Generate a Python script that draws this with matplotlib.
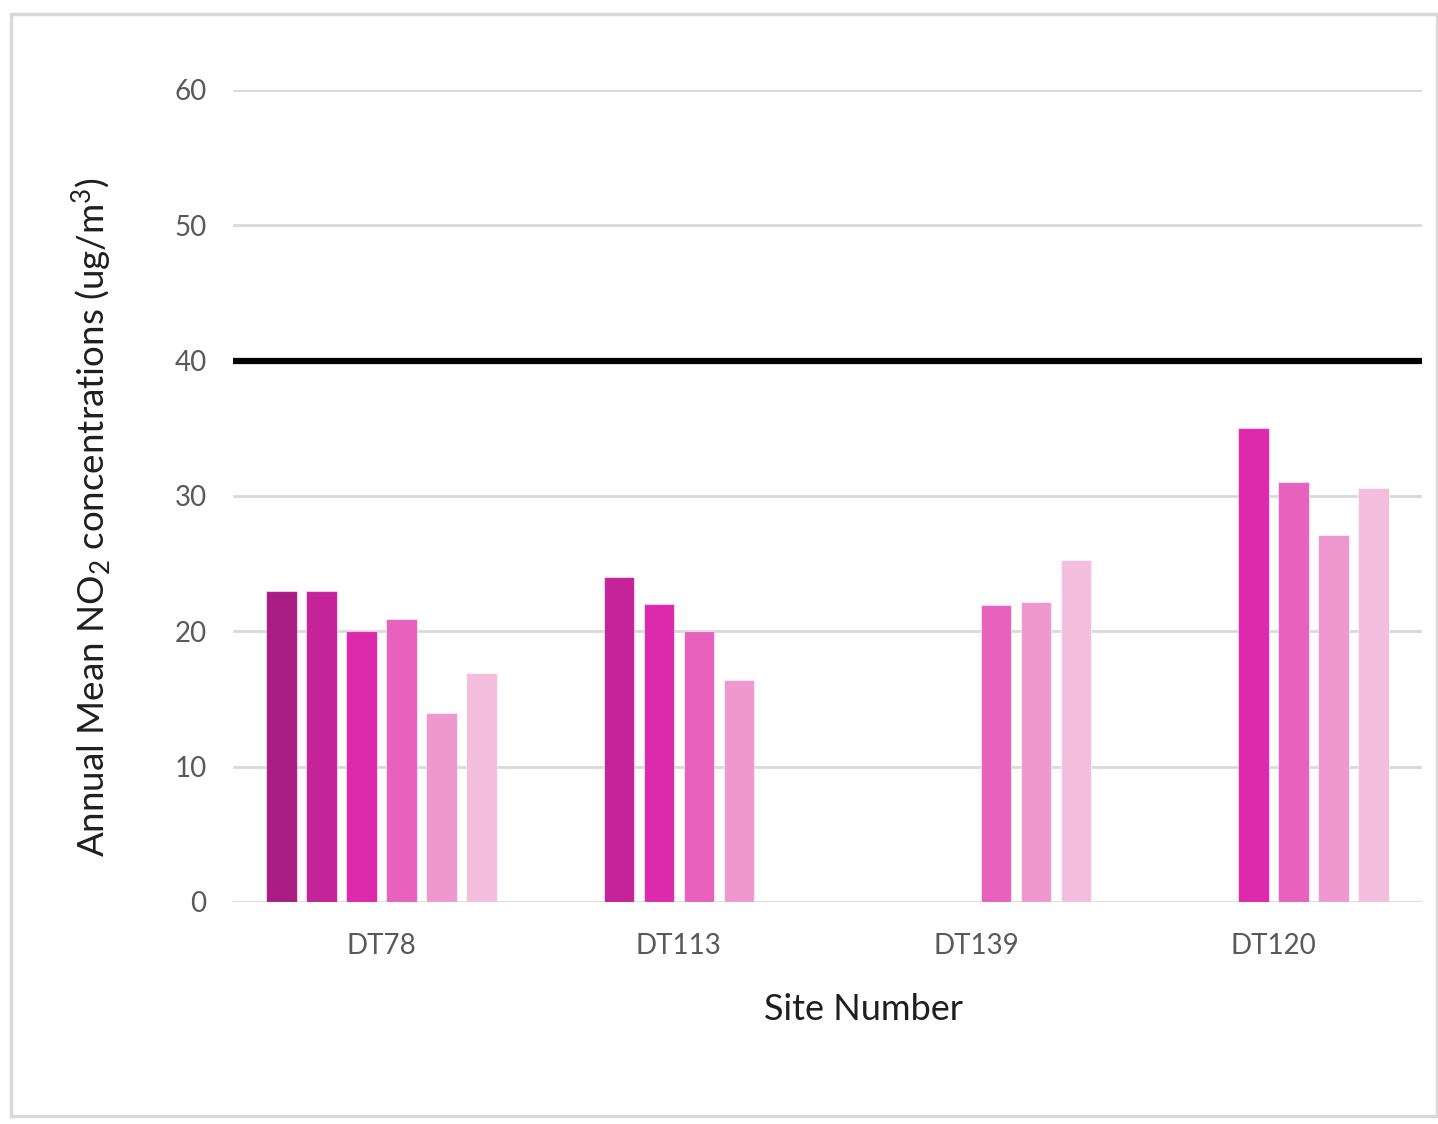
import matplotlib
matplotlib.use("Agg")
import matplotlib.pyplot as plt
from matplotlib.patches import Rectangle
import numpy as np

plt.rcParams['font.family'] = ['Lato', 'DejaVu Sans']
plt.rcParams['mathtext.fontset'] = 'custom'
plt.rcParams['mathtext.rm'] = 'Lato'
plt.rcParams['mathtext.it'] = 'Lato'

# Sites and the six yearly series (None = no measurement that year)
sites = ["DT78", "DT113", "DT139", "DT120"]
series_1 = [23.0, None, None, None]
series_2 = [23.0, 24.0, None, None]
series_3 = [20.0, 22.0, None, 35.0]
series_4 = [20.9, 20.0, 21.95, 31.0]
series_5 = [13.95, 16.4, 22.2, 27.1]
series_6 = [16.9, None, 25.3, 30.6]
objective = 40  # annual mean objective
y_ticks = [0, 10, 20, 30, 40, 50, 60]

all_series = [series_1, series_2, series_3, series_4, series_5, series_6]
colors = ["#A91C84", "#C4239A", "#DD2AAD", "#E762BD", "#EF98CF", "#F3BEDD"]

W, H = 1438, 1124
fig = plt.figure(figsize=(W / 100, H / 100), dpi=100)
ax = fig.add_axes([233 / W, 1 - 902 / H, (1422 - 233) / W, (902 - 90) / H])

slot = 0.1346
bar_w = 0.103
x = np.arange(len(sites))
for k, (vals, col) in enumerate(zip(all_series, colors)):
    xs = [xi + (k - 2.5) * slot for xi, v in zip(x, vals) if v is not None]
    ys = [v for v in vals if v is not None]
    ax.bar(xs, ys, width=bar_w, color=col, edgecolor=(1, 1, 1, 0.55),
           linewidth=0.8, zorder=3)

ax.axhline(objective, color="black", linewidth=4.5, zorder=4)

ax.set_xlim(-0.5, len(sites) - 0.5)
ax.set_ylim(0, 60)
ax.set_yticks(y_ticks)
ax.set_xticks(x)
ax.set_xticklabels(sites)
ax.grid(axis="y", color="#D9D9D9", linewidth=2, zorder=0)
ax.set_axisbelow(True)
for s in ax.spines.values():
    s.set_visible(False)
ax.tick_params(axis="both", length=0, labelsize=20, labelcolor="#595959")
ax.tick_params(axis="y", pad=19)
ax.tick_params(axis="x", pad=22)

fig.text(863 / W, 1 - 1010 / H, "Site Number", ha="center", va="center",
         fontsize=26, color="#1F1F1F")
fig.text(92 / W, 1 - 517 / H,
         r"Annual Mean NO$_2$ concentrations (ug/m$^3$)",
         rotation=90, ha="center", va="center", fontsize=26.5, color="#1F1F1F")

# chart frame
fig.patches.append(Rectangle((11 / W, 1 - 1116 / H), (1437 - 11) / W, (1116 - 14) / H,
                             transform=fig.transFigure, fill=False,
                             edgecolor="#D9D9D9", linewidth=2.5))

fig.savefig("out.png", dpi=100, facecolor="white")
